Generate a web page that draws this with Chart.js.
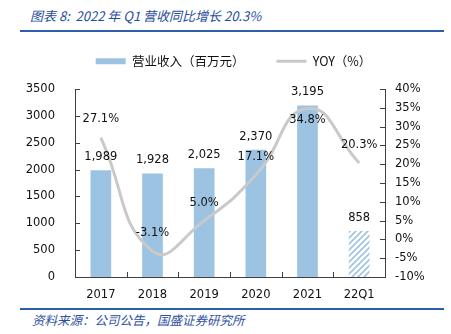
<!DOCTYPE html>
<html>
<head>
<meta charset="utf-8">
<script src="https://cdn.jsdelivr.net/npm/chart.js@4"></script>
<style>
  body { margin: 0; width: 451px; height: 334px; background: #fff; position: relative; overflow: hidden; font-family: "Noto Sans CJK SC", sans-serif; }
  #titulo { position: absolute; left: 30px; top: 6px; font-size: 13px; font-style: italic; color: #1f4e9c; white-space: nowrap; }
  #linhaTopo { position: absolute; left: 20px; top: 30px; width: 424px; height: 2px; background: #2e5ea8; }
  #linhaBase { position: absolute; left: 20px; top: 308px; width: 424px; height: 2px; background: #2e5ea8; }
  #fonte { position: absolute; left: 32px; top: 310px; font-size: 12.5px; font-style: italic; color: #2f4fa0; white-space: nowrap; }
  #caixa { position: absolute; left: 0; top: 23px; width: 451px; height: 281px; }
</style>
</head>
<body>
<div id="titulo">图表 8:&nbsp; 2022 年 Q1 营收同比增长 20.3%</div>
<div id="linhaTopo"></div>
<div id="caixa"><canvas id="graficoReceita"></canvas></div>
<div id="linhaBase"></div>
<div id="fonte">资料来源：公司公告，国盛证券研究所</div>
<script>
const categorias = ["2017", "2018", "2019", "2020", "2021", "22Q1"];
const receita = [1989, 1928, 2025, 2370, 3195, 858];
const yoy = [27.1, -3.1, 5.0, 17.1, 34.8, 20.3];
const ticksReceita = [0, 500, 1000, 1500, 2000, 2500, 3000, 3500];
const ticksYoy = [-10, -5, 0, 5, 10, 15, 20, 25, 30, 35, 40];

const corBarra = "#9dc3e2";
const corLinha = "#c9c9c9";
const corEixo = "#404040";

const grafico = document.getElementById("graficoReceita");

// hachura do 22Q1
function hachura() {
  const c = document.createElement("canvas");
  c.width = 6;
  c.height = 6;
  const g = c.getContext("2d");
  g.fillStyle = "#fff";
  g.fillRect(0, 0, 6, 6);
  g.strokeStyle = corBarra;
  g.lineWidth = 1.6;
  g.beginPath();
  g.moveTo(0, 6); g.lineTo(6, 0);
  g.moveTo(-3, 3); g.lineTo(3, -3);
  g.moveTo(3, 9); g.lineTo(9, 3);
  g.stroke();
  return grafico.getContext("2d").createPattern(c, "repeat");
}
const padrao = hachura();

// altura fixa da legenda, para a area do grafico comecar no lugar certo
const alturaLegenda = {
  id: "alturaLegenda",
  beforeLayout(chart) {
    const lg = chart.legend;
    if (lg && !lg._ajustado) {
      const fit = lg.fit;
      lg.fit = function () { fit.call(this); this.height = 66; };
      lg._ajustado = true;
    }
  },
  afterLayout(chart) {
    // legenda um pouco para a direita
    chart.legend.left += 8;
    chart.legend.right += 8;
  }
};

const marcas = {
  id: "marcas",
  beforeDatasetsDraw(chart) {
    const { ctx, chartArea: a, scales: { x, y, y1 } } = chart;
    ctx.save();
    ctx.strokeStyle = corEixo;
    ctx.lineWidth = 1;
    ctx.beginPath();
    y.ticks.forEach((t, i) => {
      const p = Math.round(y.getPixelForTick(i)) + 0.5;
      ctx.moveTo(a.left, p); ctx.lineTo(a.left + 5, p);
    });
    y1.ticks.forEach((t, i) => {
      const p = Math.round(y1.getPixelForTick(i)) + 0.5;
      ctx.moveTo(a.right - 5, p); ctx.lineTo(a.right, p);
    });
    for (let i = 1; i < categorias.length; i++) {
      const px = Math.round((x.getPixelForValue(i - 1) + x.getPixelForValue(i)) / 2) + 0.5;
      ctx.moveTo(px, a.bottom); ctx.lineTo(px, a.bottom - 5);
    }
    ctx.stroke();
    ctx.restore();
  }
};

const rotulos = {
  id: "rotulos",
  afterDatasetsDraw(chart) {
    const { ctx, scales: { x, y, y1 } } = chart;
    ctx.save();
    ctx.font = "11.5px 'DejaVu Sans'";
    ctx.fillStyle = "#111";
    ctx.textAlign = "center";
    ctx.textBaseline = "middle";
    receita.forEach((v, i) => {
      ctx.fillText(v.toLocaleString("en-US"), x.getPixelForValue(i), y.getPixelForValue(v) - 13);
    });
    yoy.forEach((v, i) => {
      const dy = i === 4 ? 11 : -18;
      ctx.fillText(v.toFixed(1) + "%", x.getPixelForValue(i), y1.getPixelForValue(v) + dy);
    });
    ctx.restore();
  }
};

new Chart(grafico, {
  type: "bar",
  data: {
    labels: categorias,
    datasets: [
      {
        label: "营业收入（百万元）",
        data: receita,
        yAxisID: "y",
        backgroundColor: receita.map((v, i) => i === receita.length - 1 ? padrao : corBarra),
        barPercentage: 0.4,
        categoryPercentage: 1,
        order: 2,
      },
      {
        type: "line",
        label: "YOY（%）",
        data: yoy,
        yAxisID: "y1",
        borderColor: corLinha,
        borderWidth: 3,
        pointRadius: 0,
        tension: 0.5,
        order: 1,
      },
    ],
  },
  options: {
    responsive: true,
    maintainAspectRatio: false,
    animation: false,
    layout: { padding: { top: 0 } },
    plugins: {
      tooltip: { enabled: false },
      legend: {
        position: "top",
        labels: {
          usePointStyle: true,
          pointStyleWidth: 30,
          boxHeight: 6,
          padding: 32,
          color: "#111",
          font: { size: 12.5, family: "'Noto Sans CJK SC'" },
          generateLabels: (chart) => chart.data.datasets.map((d, i) => ({
            text: d.label,
            datasetIndex: i,
            pointStyle: i === 0 ? "rect" : "line",
            fillStyle: i === 0 ? corBarra : corLinha,
            strokeStyle: i === 0 ? corBarra : corLinha,
            lineWidth: i === 0 ? 0 : 3,
            fontColor: "#111",
          })),
        },
      },
    },
    scales: {
      x: {
        grid: { display: false },
        border: { color: corEixo },
        ticks: { color: "#111", padding: 3, font: { size: 11.5, family: "'DejaVu Sans'" } },
        afterFit: (s) => { s.height = 27; },
      },
      y: {
        position: "left",
        min: 0,
        max: 3500,
        grid: { display: false },
        border: { color: corEixo },
        afterBuildTicks: (s) => { s.ticks = ticksReceita.map((v) => ({ value: v })); },
        ticks: { color: "#111", padding: 12, callback: (v) => String(v), font: { size: 11.5, family: "'DejaVu Sans'" } },
        afterFit: (s) => { s.width = 75; },
      },
      y1: {
        position: "right",
        min: -10,
        max: 40,
        grid: { display: false },
        border: { color: corEixo },
        afterBuildTicks: (s) => { s.ticks = ticksYoy.map((v) => ({ value: v })); },
        ticks: { color: "#111", padding: 2, callback: (v) => v + "%", font: { size: 11.5, family: "'DejaVu Sans'" } },
        afterFit: (s) => { s.width = 66; },
      },
    },
  },
  plugins: [alturaLegenda, marcas, rotulos],
});
</script>
</body>
</html>
